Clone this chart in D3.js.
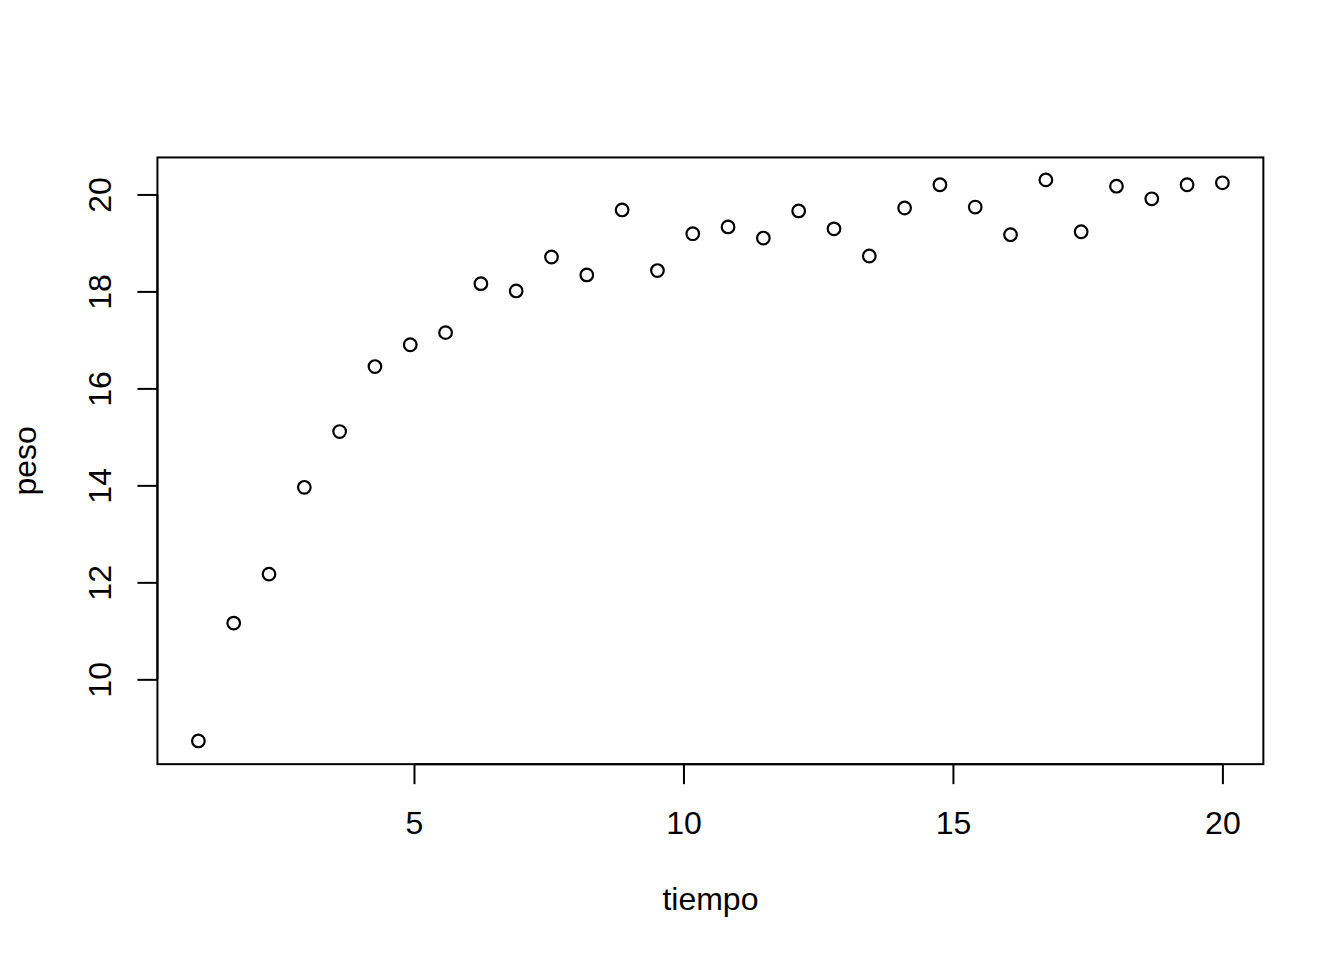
<!DOCTYPE html>
<html>
<head>
<meta charset="utf-8">
<script src="https://cdn.jsdelivr.net/npm/d3@7"></script>
<style>
  html, body { margin: 0; padding: 0; background: #fff; }
  svg { display: block; }
  text { font-family: "Liberation Sans", Arial, sans-serif; fill: #000; }
</style>
</head>
<body>
<script>
// Data: tiempo = seq(1, 20, length = 30)
const n = 30;
const tiempo = d3.range(n).map(i => 1 + i * 19 / (n - 1));
const peso = [8.73, 11.16, 12.17, 13.96, 15.11, 16.45, 16.90, 17.15, 18.16, 18.01,
              18.71, 18.34, 19.68, 18.43, 19.19, 19.33, 19.10, 19.66, 19.29, 18.73,
              19.72, 20.20, 19.74, 19.17, 20.30, 19.23, 20.17, 19.91, 20.20, 20.24];
const xTicks = [5, 10, 15, 20];
const yTicks = [10, 12, 14, 16, 18, 20];
const xLabel = "tiempo";
const yLabel = "peso";

const W = 1344, H = 960;
const line = 38.4;
const m = { top: 4.1 * line, right: 2.1 * line, bottom: 5.1 * line, left: 4.1 * line };

const svg = d3.select("body").append("svg").attr("width", W).attr("height", H);

function rExt(ext) {
  const s = ext[1] - ext[0];
  return [ext[0] - 0.04 * s, ext[1] + 0.04 * s];
}
const x = d3.scaleLinear().domain(rExt(d3.extent(tiempo))).range([m.left, W - m.right]);
const y = d3.scaleLinear().domain(rExt(d3.extent(peso))).range([H - m.bottom - 0.8, m.top]);

// box
svg.append("rect")
  .attr("x", m.left).attr("y", m.top)
  .attr("width", W - m.left - m.right).attr("height", H - m.top - m.bottom)
  .attr("fill", "none").attr("stroke", "#000").attr("stroke-width", 2);

// x axis
const xAxis = d3.axisBottom(x).tickValues(xTicks).tickSize(20).tickPadding(0).tickFormat(d3.format("d"));
const gx = svg.append("g").attr("transform", `translate(0,${H - m.bottom})`).call(xAxis);
gx.select(".domain").attr("d", `M${x(xTicks[0])},0H${x(xTicks[xTicks.length - 1])}`).attr("stroke-width", 2);
gx.selectAll(".tick line").attr("stroke-width", 2);
gx.selectAll(".tick text").attr("font-size", 32).attr("dy", null).attr("y", 70)
  .attr("font-family", "Liberation Sans, Arial, sans-serif").attr("fill", "#000");

// y axis
const yAxis = d3.axisLeft(y).tickValues(yTicks).tickSize(20).tickPadding(0).tickFormat(d3.format("d"));
const gy = svg.append("g").attr("transform", `translate(${m.left},0)`).call(yAxis);
gy.select(".domain").attr("d", `M0,${y(yTicks[0])}V${y(yTicks[yTicks.length - 1])}`).attr("stroke-width", 2);
gy.selectAll(".tick line").attr("stroke-width", 2);
gy.selectAll(".tick text")
  .attr("font-size", 32).attr("font-family", "Liberation Sans, Arial, sans-serif").attr("fill", "#000")
  .attr("x", null).attr("dy", null)
  .attr("text-anchor", "middle")
  .attr("transform", "translate(-46,0) rotate(-90)");

// axis titles
svg.append("text").attr("x", (m.left + W - m.right) / 2).attr("y", 910)
  .attr("text-anchor", "middle").attr("font-size", 32).text(xLabel);
svg.append("text")
  .attr("transform", `translate(${m.left - 3 * line - 6},${(m.top + H - m.bottom) / 2}) rotate(-90)`)
  .attr("text-anchor", "middle").attr("font-size", 32).text(yLabel);

// points
svg.append("g").selectAll("circle").data(tiempo.map((t, i) => [t, peso[i]])).join("circle")
  .attr("cx", d => x(d[0])).attr("cy", d => y(d[1])).attr("r", 6.3)
  .attr("fill", "none").attr("stroke", "#000").attr("stroke-width", 2.2);
</script>
</body>
</html>
